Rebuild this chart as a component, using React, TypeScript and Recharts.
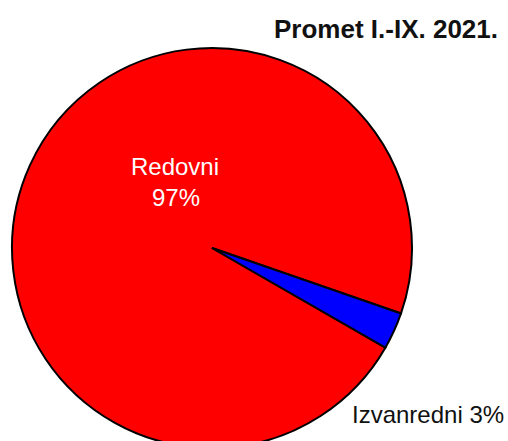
import React from "react";
import { PieChart, Pie, Cell } from "recharts";

const categories = ["Redovni", "Izvanredni"];
const shares = [97, 3];
const colors = ["#ff0000", "#0000ff"];
const title = "Promet I.-IX. 2021.";

const data = categories.map((name, i) => ({ name, value: shares[i] }));

const FONT = "'Liberation Sans', Arial, sans-serif";

function renderLabel(props: any) {
  const { cx, cy, index, name, value } = props;
  if (index === 0) {
    return (
      <text
        x={cx - 37}
        y={cy - 73}
        textAnchor="middle"
        fill="#ffffff"
        fontSize={24}
        fontFamily={FONT}
      >
        <tspan x={cx - 37}>{name}</tspan>
        <tspan x={cx - 36} dy={31}>{`${value}%`}</tspan>
      </text>
    );
  }
  return (
    <text
      x={cx + 140}
      y={cy + 175}
      textAnchor="start"
      fill="#111111"
      fontSize={24}
      fontFamily={FONT}
    >
      {`${name} ${value}%`}
    </text>
  );
}

export default function App() {
  return (
    <div
      style={{
        position: "absolute",
        left: 0,
        top: 0,
        width: 508,
        height: 441,
        background: "#fff",
        overflow: "hidden",
      }}
    >
      <PieChart width={508} height={441} margin={{ top: 0, right: 0, bottom: 0, left: 0 }}>
        <Pie
          data={data}
          dataKey="value"
          nameKey="name"
          cx={212}
          cy={248}
          outerRadius={200}
          startAngle={-19.1}
          endAngle={340.9}
          stroke="#000000"
          strokeWidth={2}
          labelLine={false}
          label={renderLabel}
          isAnimationActive={false}
        >
          {data.map((d, i) => (
            <Cell key={d.name} fill={colors[i]} />
          ))}
        </Pie>
      </PieChart>
      <div
        style={{
          position: "absolute",
          right: 10,
          top: 14,
          fontFamily: FONT,
          fontWeight: "bold",
          fontSize: 26,
          color: "#111",
          lineHeight: "30px",
          whiteSpace: "nowrap",
        }}
      >
        {title}
      </div>
    </div>
  );
}
